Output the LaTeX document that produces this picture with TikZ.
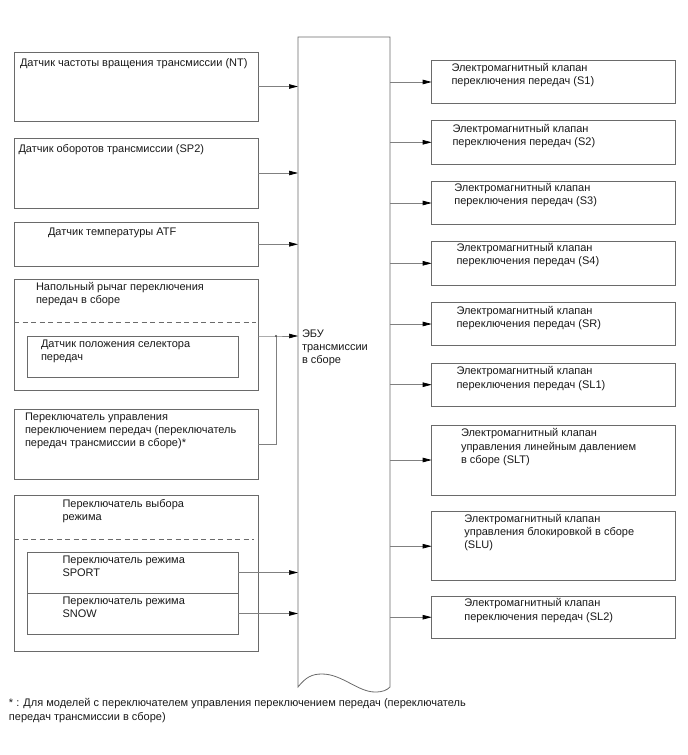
\documentclass[tikz,border=0pt]{standalone}
\usepackage{fontspec}
\setmainfont{Liberation Sans}
\usetikzlibrary{arrows.meta}
\definecolor{edge}{HTML}{6A6A6A}
\definecolor{wire}{HTML}{808080}
\begin{document}
\begin{tikzpicture}[x=1pt,y=-1pt,
  box/.style={draw=edge,line width=0.8pt,inner sep=0pt,outer sep=0pt},
  txt/.style={inner sep=0pt,outer sep=0pt,anchor=base west,align=left,text=black!90,font=\fontsize{11}{13.3}\selectfont},
  wireline/.style={draw=wire,line width=0.7pt},
  arr/.style={wireline,-{Triangle[length=9pt,width=4.5pt,color=black]}},
  sep/.style={draw=edge,line width=0.7pt,dash pattern=on 5pt off 3.5pt}]
\useasboundingbox (0,0) rectangle (688,755);
% ECU
\node[inner sep=0pt,outer sep=0pt,minimum width=92pt,minimum height=650pt] (ecu) at (344,362) {};
\draw[box] (ecu.north west) -- (298,687) .. controls (306,677) and (312,674) .. (322,674)
  .. controls (342,674) and (358,692) .. (375,692) .. controls (383,692) and (387,690) .. (390,687)
  -- (ecu.north east) -- cycle;
\node[txt] (tecu) at (302,363.6) {ЭБУ\\трансмиссии\\в сборе};
% left boxes
\node[box,minimum width=244pt,minimum height=69pt] (nt) at (136,86.5) {};
\node[txt] (tnt) at (20,66) {Датчик частоты вращения трансмиссии (NT)};
\node[box,minimum width=244pt,minimum height=70pt] (sp2) at (136,173) {};
\node[txt] (tsp2) at (18.5,152.5) {Датчик оборотов трансмиссии (SP2)};
\node[box,minimum width=244pt,minimum height=43.3pt] (atf) at (136,244.3) {};
\node[txt] (tatf) at (48,235) {Датчик температуры ATF};
\node[box,minimum width=244pt,minimum height=111pt] (floor) at (136,334.5) {};
\node[txt] (tfloor) at (36,303.3) {Напольный рычаг переключения\\передач в сборе};
\draw[sep] (14,322) -- (256,322);
\node[box,minimum width=211pt,minimum height=41pt] (sel) at (132.5,356.5) {};
\node[txt] (tsel) at (41,360.3) {Датчик положения селектора\\передач};
\node[box,minimum width=244pt,minimum height=70pt] (shift) at (136,444) {};
\node[txt] (tshift) at (25,446.6) {Переключатель управления\\переключением передач (переключатель\\передач трансмиссии в сборе)*};
\node[box,minimum width=244pt,minimum height=156pt] (mode) at (136,573) {};
\node[txt] (tmode) at (62.5,520.8) {Переключатель выбора\\режима};
\draw[sep] (14,539) -- (254,539);
\node[box,minimum width=211pt,minimum height=41pt] (sport) at (132.5,572.5) {};
\node[txt] (tsport) at (62.5,576.8) {Переключатель режима\\SPORT};
\node[box,minimum width=211pt,minimum height=41pt] (snow) at (132.5,613.5) {};
\node[txt] (tsnow) at (62.5,617.3) {Переключатель режима\\SNOW};
% right boxes
\node[box,minimum width=244pt,minimum height=42.6pt] (s1) at (553.7,82) {};
\node[txt] (ts1) at (451.5,84.8) {Электромагнитный клапан\\переключения передач (S1)};
\node[box,minimum width=244pt,minimum height=43.3pt] (s2) at (553.7,142.3) {};
\node[txt] (ts2) at (452.5,145.3) {Электромагнитный клапан\\переключения передач (S2)};
\node[box,minimum width=244pt,minimum height=42.6pt] (s3) at (553.7,203) {};
\node[txt] (ts3) at (454.3,204.3) {Электромагнитный клапан\\переключения передач (S3)};
\node[box,minimum width=244pt,minimum height=43.3pt] (s4) at (553.7,263.3) {};
\node[txt] (ts4) at (456.5,264.8) {Электромагнитный клапан\\переключения передач (S4)};
\node[box,minimum width=244pt,minimum height=43.3pt] (sr) at (553.7,324) {};
\node[txt] (tsr) at (456.5,327.3) {Электромагнитный клапан\\переключения передач (SR)};
\node[box,minimum width=244pt,minimum height=42.7pt] (sl1) at (553.7,384.7) {};
\node[txt] (tsl1) at (456.5,388) {Электромагнитный клапан\\переключения передач (SL1)};
\node[box,minimum width=244pt,minimum height=70pt] (slt) at (553.7,460) {};
\node[txt] (tslt) at (461,463.3) {Электромагнитный клапан\\управления линейным давлением\\в сборе (SLT)};
\node[box,minimum width=244pt,minimum height=69pt] (slu) at (553.7,546.2) {};
\node[txt] (tslu) at (464.3,548.9) {Электромагнитный клапан\\управления блокировкой в сборе\\(SLU)};
\node[box,minimum width=244pt,minimum height=42.3pt] (sl2) at (553.7,617.2) {};
\node[txt] (tsl2) at (464.3,620) {Электромагнитный клапан\\переключения передач (SL2)};
% footnote
\node[txt] (fn) at (9,720) {* : Для моделей с переключателем управления переключением передач (переключатель\\передач трансмиссии в сборе)};
% inputs
\draw[arr] (nt.east) -- (nt.east -| ecu.west);
\draw[arr] (sp2.east) -- (sp2.east -| ecu.west);
\draw[arr] (atf.east) -- (atf.east -| ecu.west);
\coordinate (j) at (276,336);
\draw[arr] (floor.east |- sel.north) -- (j) -- (j -| ecu.west);
\draw[wireline] (shift.east) -| (j);
\fill[black!70] (j) circle (1.2pt);
\draw[arr] (sport.east) -- (sport.east -| ecu.west);
\draw[arr] (snow.east) -- (snow.east -| ecu.west);
% outputs
\foreach \n in {s1,s2,s3,s4,sr,sl1,slt,slu,sl2}
  \draw[arr] (\n.west -| ecu.east) -- (\n.west);
\end{tikzpicture}
\end{document}
